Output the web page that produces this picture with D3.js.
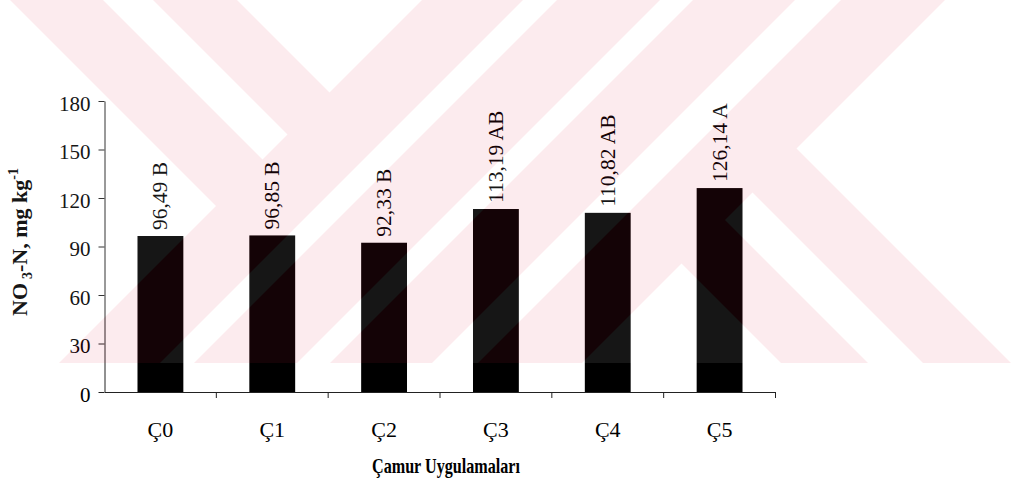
<!DOCTYPE html>
<html>
<head>
<meta charset="utf-8">
<script src="https://cdn.jsdelivr.net/npm/d3@7"></script>
<style>
  html, body { margin: 0; padding: 0; background: #fff; }
  svg { display: block; }
</style>
</head>
<body>
<svg id="chart" width="1018" height="482"></svg>
<script>
// Nitrate-N by sludge application, with significance group letters
const categories = ["Ç0", "Ç1", "Ç2", "Ç3", "Ç4", "Ç5"];
const values = [96.49, 96.85, 92.33, 113.19, 110.82, 126.14];
const groups = ["B", "B", "B", "AB", "AB", "A"];
const yTicks = [0, 30, 60, 90, 120, 150, 180];

const W = 1018, H = 482;
const FONT = "'Liberation Serif', 'Times New Roman', serif";
const INK = "#000";

const svg = d3.select("#chart");

const x = d3.scaleBand().domain(categories).range([104.5, 775.5]).padding(0);
const y = d3.scaleLinear().domain([0, 180]).range([392, 101]);
const barW = x.bandwidth() * 0.41;
const cx = c => x(c) + x.bandwidth() / 2;

// bars
svg.append("g").selectAll("rect")
  .data(values)
  .join("rect")
  .attr("x", (d, i) => cx(categories[i]) - barW / 2)
  .attr("width", barW)
  .attr("y", d => y(d))
  .attr("height", d => y(0) - y(d))
  .attr("fill", INK);

// value + group labels, rotated above each bar
const fmt = v => d3.format(".2f")(v).replace(".", ",");
svg.append("g").selectAll("text")
  .data(values)
  .join("text")
  .attr("transform", (d, i) => `translate(${cx(categories[i]) + 7},${y(d) - 6}) rotate(-90)`)
  .attr("text-anchor", "start")
  .attr("font-family", FONT)
  .attr("font-size", 21.5)
  .attr("fill", INK)
  .text((d, i) => `${fmt(d)} ${groups[i]}`);

// y axis
const yAxis = svg.append("g")
  .attr("transform", "translate(104.5,0)")
  .call(d3.axisLeft(y).tickValues(yTicks).tickSize(6).tickSizeOuter(0).tickPadding(8));
yAxis.select(".domain").attr("stroke", "#222");
yAxis.selectAll(".tick line").attr("stroke", "#222");
yAxis.selectAll(".tick text")
  .attr("font-family", FONT)
  .attr("font-size", 21)
  .attr("dy", "0.45em")
  .attr("fill", INK);

// x axis: labels centred in each band, ticks on band edges
const xAxis = svg.append("g")
  .attr("transform", "translate(0,392)")
  .call(d3.axisBottom(x).tickSize(0).tickSizeOuter(0).tickPadding(45));
xAxis.select(".domain").attr("stroke", "#222");
xAxis.selectAll(".tick text")
  .attr("font-family", FONT)
  .attr("font-size", 22)
  .attr("dy", 0)
  .attr("fill", INK);
const edges = categories.map(c => x(c)).concat([x.range()[1]]);
svg.append("g").selectAll("line")
  .data(edges.slice(1))
  .join("line")
  .attr("x1", d => d).attr("x2", d => d)
  .attr("y1", 392).attr("y2", 398)
  .attr("stroke", "#222");

// axis titles (x title set in a narrow bold face)
svg.append("text")
  .attr("x", 372)
  .attr("y", 473)
  .attr("text-anchor", "start")
  .attr("textLength", 148)
  .attr("lengthAdjust", "spacingAndGlyphs")
  .style("font-family", FONT)
  .style("font-weight", "bold")
  .style("font-size", "22px")
  .attr("fill", INK)
  .text("Çamur Uygulamaları");

const yt = svg.append("text")
  .attr("transform", "translate(27,242) rotate(-90)")
  .attr("text-anchor", "middle")
  .attr("font-family", FONT)
  .attr("font-weight", "bold")
  .attr("font-size", 22)
  .attr("fill", INK);
yt.append("tspan").text("NO");
yt.append("tspan").attr("dx", 4).attr("dy", 5).attr("font-size", 14).text("3");
yt.append("tspan").attr("dy", -5).text("-N, mg kg");
yt.append("tspan").attr("dy", -9).attr("font-size", 14).text("-1");

// light striped seal printed over the upper part of the page
const sealTop = 0, sealBottom = 363;
const sealGaps = [
  [[0, 0], [10, 0], [216, 206], [59, 363], [0, 363]],
  [[103, 0], [153, 0], [287.5, 134.5], [262.5, 159.5]],
  [[237, 0], [422, 0], [329.5, 92.5]],
  [[523, 0], [557, 0], [194, 363], [160, 363]],
  [[660, 0], [693, 0], [330, 363], [297, 363]],
  [[795, 0], [841, 0], [478, 363], [432, 363]],
  [[945, 0], [1018, 0], [1018, 363], [1011, 363], [796.5, 148.5]],
  [[752.5, 192.5], [923, 363], [868, 363], [725, 220]],
  [[681.5, 263.5], [781, 363], [582, 363]]
];
const seal = svg.append("g").attr("opacity", 0.086);
seal.append("rect").attr("x", 0).attr("y", sealTop).attr("width", W).attr("height", sealBottom - sealTop).attr("fill", "#fff");
seal.append("rect").attr("x", 0).attr("y", sealTop).attr("width", W).attr("height", sealBottom - sealTop).attr("fill", "#e82346");
seal.selectAll("polygon")
  .data(sealGaps)
  .join("polygon")
  .attr("points", d => d.map(p => p.join(",")).join(" "))
  .attr("fill", "#fff");
</script>
</body>
</html>
